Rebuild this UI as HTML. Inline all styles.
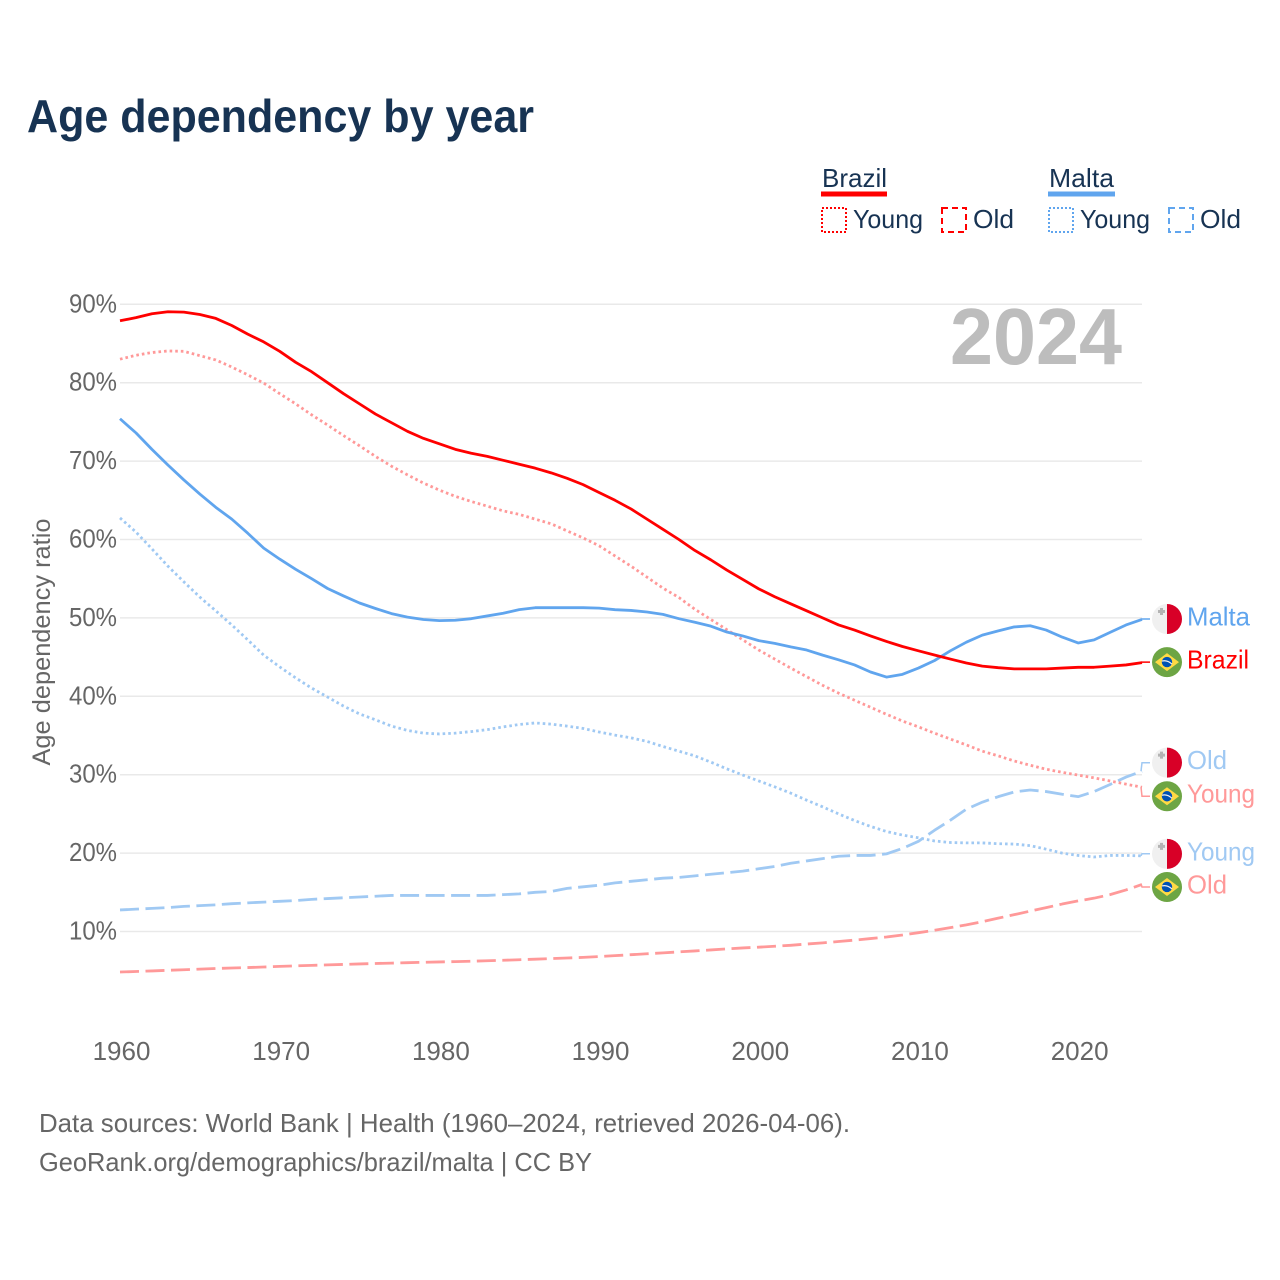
<!DOCTYPE html>
<html lang="en">
<head>
<meta charset="utf-8">
<title>Age dependency by year</title>
<style>
html,body{margin:0;padding:0;background:#fff;width:1280px;height:1280px;overflow:hidden}
svg{display:block}
text{font-family:"Liberation Sans",sans-serif}
.ink{fill:#173353}
.mut{fill:#666666}
</style>
</head>
<body>
<svg id="chart" xmlns="http://www.w3.org/2000/svg" width="1280" height="1280" viewBox="0 0 1280 1280">
  <text class="ink" x="27" y="132" font-size="46" font-weight="700" textLength="507" lengthAdjust="spacingAndGlyphs">Age dependency by year</text>

  <g>
    <text class="ink" x="822" y="187" font-size="26" textLength="65" lengthAdjust="spacingAndGlyphs">Brazil</text>
    <rect x="821" y="191.5" width="66" height="5" fill="#ff0000"/>
    <rect x="822" y="208" width="24" height="24" fill="none" stroke="#ff0000" stroke-width="2" stroke-dasharray="2 2"/>
    <text class="ink" x="853" y="228" font-size="26" textLength="70" lengthAdjust="spacingAndGlyphs">Young</text>
    <rect x="942" y="208" width="24" height="24" fill="none" stroke="#ff0000" stroke-width="2" stroke-dasharray="6 4"/>
    <text class="ink" x="973" y="228" font-size="26" textLength="41" lengthAdjust="spacingAndGlyphs">Old</text>

    <text class="ink" x="1049" y="187" font-size="26" textLength="65" lengthAdjust="spacingAndGlyphs">Malta</text>
    <rect x="1048" y="191.5" width="67" height="5" fill="#60a5ee"/>
    <rect x="1049" y="208" width="24" height="24" fill="none" stroke="#60a5ee" stroke-width="2" stroke-dasharray="2 2"/>
    <text class="ink" x="1080" y="228" font-size="26" textLength="70" lengthAdjust="spacingAndGlyphs">Young</text>
    <rect x="1169" y="208" width="24" height="24" fill="none" stroke="#60a5ee" stroke-width="2" stroke-dasharray="6 4"/>
    <text class="ink" x="1200" y="228" font-size="26" textLength="41" lengthAdjust="spacingAndGlyphs">Old</text>
  </g>

  <g id="grid"></g>
  <g id="yaxis"></g>
  <g id="xaxis"></g>
  <text class="mut" transform="translate(50,642) rotate(-90)" text-anchor="middle" font-size="25" textLength="247" lengthAdjust="spacingAndGlyphs">Age dependency ratio</text>
  <text x="950" y="364" font-size="80" font-weight="700" fill="#bdbdbd" textLength="172" lengthAdjust="spacingAndGlyphs">2024</text>
  <g id="series"></g>
  <g id="ends"></g>

  <text class="mut" x="39" y="1132" font-size="26" textLength="811" lengthAdjust="spacingAndGlyphs">Data sources: World Bank | Health (1960–2024, retrieved 2026-04-06).</text>
  <text class="mut" x="39" y="1171" font-size="26" textLength="553" lengthAdjust="spacingAndGlyphs">GeoRank.org/demographics/brazil/malta | CC BY</text>
</svg>

<script>
const firstYear = 1960;
const lastYear = 2024;
const yTickValues = [10, 20, 30, 40, 50, 60, 70, 80, 90];
const xTickValues = [1960, 1970, 1980, 1990, 2000, 2010, 2020];

const brazilTotal = [
  87.9,88.3,88.8,89.05,89.0,88.7,88.2,87.3,86.2,85.2,
  84.0,82.6,81.4,80.0,78.6,77.3,76.0,74.9,73.8,72.9,
  72.2,71.5,71.0,70.6,70.1,69.6,69.1,68.5,67.8,67.0,
  66.0,65.0,63.9,62.6,61.3,60.0,58.6,57.4,56.1,54.9,
  53.7,52.7,51.8,50.9,50.0,49.1,48.45,47.7,47.0,46.35,
  45.8,45.27,44.75,44.25,43.85,43.65,43.5,43.5,43.5,43.6,
  43.7,43.7,43.85,44.0,44.3];
const brazilYoung = [
  83.0,83.5,83.85,84.05,84.0,83.45,82.9,82.0,81.0,79.95,
  78.6,77.3,75.9,74.6,73.25,71.95,70.6,69.35,68.25,67.2,
  66.3,65.5,64.85,64.25,63.65,63.2,62.6,62.0,61.1,60.2,
  59.2,57.9,56.6,55.2,53.8,52.6,51.1,49.8,48.5,47.2,
  45.9,44.75,43.6,42.5,41.4,40.4,39.5,38.6,37.7,36.85,
  36.1,35.3,34.55,33.8,33.0,32.4,31.75,31.2,30.7,30.3,
  29.95,29.6,29.2,28.8,28.4];
const brazilOld = [
  4.83,4.9,4.97,5.05,5.12,5.2,5.28,5.34,5.4,5.47,
  5.55,5.62,5.68,5.74,5.8,5.86,5.92,5.97,6.02,6.07,
  6.12,6.16,6.21,6.27,6.33,6.4,6.47,6.55,6.62,6.7,
  6.8,6.92,7.04,7.16,7.27,7.4,7.52,7.65,7.78,7.9,
  8.0,8.12,8.24,8.4,8.55,8.72,8.9,9.1,9.3,9.55,
  9.85,10.15,10.5,10.85,11.25,11.7,12.15,12.6,13.05,13.5,
  13.9,14.25,14.7,15.3,16.0];
const maltaTotal = [
  75.4,73.6,71.5,69.5,67.6,65.8,64.1,62.6,60.8,58.9,
  57.5,56.2,55.0,53.75,52.8,51.9,51.2,50.55,50.1,49.8,
  49.65,49.7,49.9,50.25,50.6,51.05,51.3,51.3,51.3,51.3,
  51.25,51.05,50.95,50.75,50.45,49.9,49.45,48.95,48.2,47.7,
  47.1,46.75,46.3,45.9,45.25,44.65,44.0,43.1,42.45,42.8,
  43.6,44.55,45.8,46.9,47.8,48.35,48.85,49.0,48.45,47.55,
  46.8,47.2,48.15,49.1,49.8];
const maltaYoung = [
  62.75,60.95,58.8,56.6,54.6,52.65,50.9,49.1,47.2,45.25,
  43.75,42.35,41.05,39.9,38.75,37.75,37.0,36.2,35.65,35.3,
  35.2,35.3,35.5,35.75,36.1,36.4,36.6,36.45,36.2,35.9,
  35.45,35.05,34.7,34.25,33.6,33.0,32.4,31.6,30.75,29.95,
  29.2,28.45,27.65,26.75,25.9,25.0,24.15,23.4,22.75,22.3,
  21.95,21.55,21.35,21.3,21.3,21.2,21.15,20.95,20.5,20.0,
  19.7,19.5,19.7,19.7,19.65];
const maltaOld = [
  12.75,12.85,12.95,13.05,13.2,13.3,13.4,13.55,13.65,13.75,
  13.85,13.95,14.1,14.2,14.3,14.4,14.5,14.6,14.6,14.6,
  14.6,14.6,14.6,14.6,14.7,14.8,15.0,15.1,15.5,15.7,
  15.9,16.2,16.4,16.6,16.8,16.9,17.1,17.3,17.5,17.7,
  18.0,18.3,18.7,19.0,19.3,19.6,19.7,19.7,19.9,20.6,
  21.5,22.9,24.2,25.6,26.5,27.2,27.8,28.05,27.85,27.5,
  27.2,27.85,28.75,29.7,30.45];

const NS = 'http://www.w3.org/2000/svg';
const x = function (year) { return 120 + (year - firstYear) * (1142 - 120) / (lastYear - firstYear); };
const y = function (pct) { return 931.5 - (pct - 10) * 7.84; };

function mk(tag, parent, attrs, text) {
  const el = document.createElementNS(NS, tag);
  for (const k in attrs) el.setAttribute(k, attrs[k]);
  if (text !== undefined) el.textContent = text;
  parent.appendChild(el);
  return el;
}

const gridG = document.getElementById('grid');
const yG = document.getElementById('yaxis');
const xG = document.getElementById('xaxis');
const seriesG = document.getElementById('series');
const endsG = document.getElementById('ends');

yTickValues.forEach(function (v) {
  const line = mk('line', gridG, { x1: 120, x2: 1142, y1: y(v), y2: y(v), stroke: '#e9e9e9', 'stroke-width': 1.5 });
  
  
  const t = mk('text', yG, { x: 117, y: y(v) + 8, 'text-anchor': 'end', 'font-size': 26, class: 'mut', textLength: 48, lengthAdjust: 'spacingAndGlyphs' }, v + '%');
  
  
});

xTickValues.forEach(function (v) {
  const t = mk('text', xG, { x: x(v) + 1.5, y: 1060, 'text-anchor': 'middle', 'font-size': 26, class: 'mut' }, String(v));
  
  
});

function drawSeries(values, color, dash, width, name) {
  const pts = values.map(function (v, i) { return x(firstYear + i).toFixed(2) + ',' + y(v).toFixed(2); });
  const attrs = { points: pts.join(' '), fill: 'none', stroke: color, 'stroke-width': width, 'stroke-linejoin': 'round' };
  if (dash) attrs['stroke-dasharray'] = dash;
  const line = mk('polyline', seriesG, attrs);
  
  
}

const RED = '#ff0000', RED_L = '#ff9999', BLUE = '#60a5ee', BLUE_L = '#a0c9f3';
const DOT = '2.6 3', DASH = '19 6.5';
drawSeries(brazilOld, RED_L, DASH, 2.8, 'brazil-old-line');
drawSeries(maltaOld, BLUE_L, DASH, 2.8, 'malta-old-line');
drawSeries(brazilYoung, RED_L, DOT, 2.8, 'brazil-young-line');
drawSeries(maltaYoung, BLUE_L, DOT, 2.8, 'malta-young-line');
drawSeries(maltaTotal, BLUE, null, 2.8, 'malta-total-line');
drawSeries(brazilTotal, RED, null, 2.8, 'brazil-total-line');

function drawMaltaFlag(cy) {
  const g = mk('g', endsG, {});
  
  
  const cx = 1167, r = 15;
  mk('circle', g, { cx: cx, cy: cy, r: r, fill: '#f0f0f0' });
  mk('path', g, { d: 'M' + cx + ' ' + (cy - r) + 'A' + r + ' ' + r + ' 0 0 1 ' + cx + ' ' + (cy + r) + 'Z', fill: '#d80027' });
  mk('path', g, { d: 'M' + (cx - 7) + ' ' + (cy - 11) + 'h3v2h2v3h-2v2h-3v-2h-2v-3h2z', fill: '#b4b4b4' });
}

function drawBrazilFlag(cy) {
  const g = mk('g', endsG, {});
  
  
  const cx = 1167;
  mk('circle', g, { cx: cx, cy: cy, r: 15, fill: '#6da544' });
  mk('path', g, { d: 'M' + cx + ' ' + (cy - 9) + 'L' + (cx + 12) + ' ' + cy + 'L' + cx + ' ' + (cy + 9) + 'L' + (cx - 12) + ' ' + cy + 'Z', fill: '#ffda44' });
  mk('circle', g, { cx: cx, cy: cy, r: 5.2, fill: '#0052b4' });
  mk('path', g, { d: 'M' + (cx - 5) + ' ' + (cy - 1) + 'Q' + cx + ' ' + (cy - 2.5) + ' ' + (cx + 5) + ' ' + (cy + 2), fill: 'none', stroke: '#f0f0f0', 'stroke-width': 1.2 });
}

function drawEnd(values, shift, color, label, width, name) {
  const last = values[values.length - 1];
  const ye = y(last);
  const ly = ye + shift;
  const lead = mk('polyline', endsG, { points: '1141,' + ye.toFixed(1) + ' 1142,' + ly.toFixed(1) + ' 1150,' + ly.toFixed(1), fill: 'none', stroke: color, 'stroke-width': 1.5 });
  
  
  if (name.indexOf('malta') === 0) drawMaltaFlag(ly); else drawBrazilFlag(ly);
  const t = mk('text', endsG, { x: 1187, y: ly + 6.5, 'font-size': 26, fill: color, textLength: width, lengthAdjust: 'spacingAndGlyphs' }, label);
  
  
}

drawEnd(maltaTotal, -0.5, BLUE, 'Malta', 63, 'malta-total');
drawEnd(brazilTotal, -0.5, RED, 'Brazil', 62, 'brazil-total');
drawEnd(maltaOld, -8.5, BLUE_L, 'Old', 40, 'malta-old');
drawEnd(brazilYoung, 9, RED_L, 'Young', 68, 'brazil-young');
drawEnd(maltaYoung, -2, BLUE_L, 'Young', 68, 'malta-young');
drawEnd(brazilOld, 2.5, RED_L, 'Old', 40, 'brazil-old');
</script>
</body>
</html>
